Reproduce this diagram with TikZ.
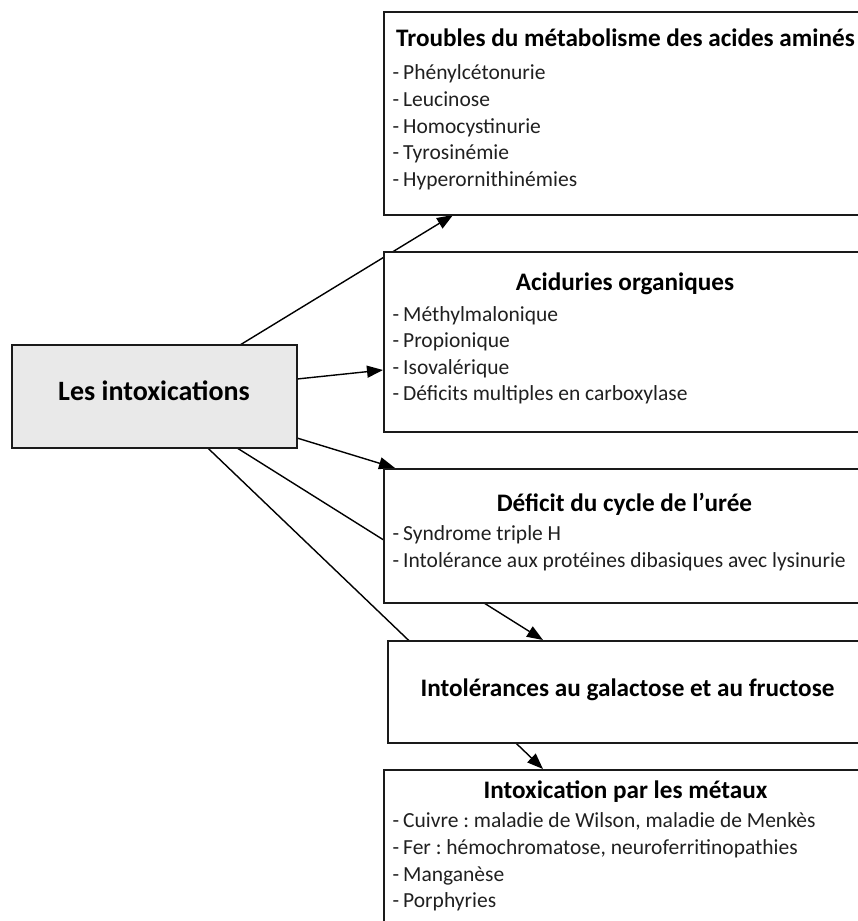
\documentclass[tikz,border=0pt]{standalone}
\usepackage{fontspec}
\setmainfont{Carlito}
\usetikzlibrary{arrows.meta,calc,backgrounds}
\definecolor{mainfill}{HTML}{E9E9E9}
\definecolor{edge}{HTML}{1A1A1A}
\definecolor{bodytext}{HTML}{202020}
\newcommand{\dashB}{\llap{-\hspace{4pt}}}
\tikzset{
  box/.style={draw=edge, line width=1.4pt, fill=white, anchor=north west, inner sep=0pt, outer sep=0pt},
  mainbox/.style={box, fill=mainfill},
  title/.style={font=\fontsize{25.2}{30}\selectfont\bfseries, anchor=base, inner sep=0pt},
  body/.style={font=\fontsize{21.5}{26}\selectfont, text=bodytext, anchor=base west, inner sep=0pt},
  conn/.style={draw=black, line width=1.4pt, -{Triangle[length=16pt,width=12pt]}}
}
\begin{document}
\frenchspacing
\begin{tikzpicture}[x=1pt,y=-1pt]
\useasboundingbox (0,0) rectangle (858,921);
% boxes
\node[mainbox, minimum width=285pt, minimum height=103pt] (main) at (12,345) {};
\node[box, minimum width=500pt, minimum height=203pt] (b1) at (384,12) {};
\node[box, minimum width=500pt, minimum height=180pt] (b2) at (384,252) {};
\node[box, minimum width=500pt, minimum height=134pt] (b3) at (384,469) {};
\node[box, minimum width=500pt, minimum height=102pt] (b4) at (388,641) {};
\node[box, minimum width=500pt, minimum height=200pt] (b5) at (384,770) {};
% connectors (behind boxes)
\begin{scope}[on background layer]
\draw[conn] ($(main.north west)!0.8!(main.north east)$) -- ([xshift=69pt]b1.south west);
\draw[conn] ([yshift=-34pt]main.north east) -- ([yshift=-118pt,xshift=-1pt]b2.north west);
\draw[conn] ([yshift=-93pt]main.north east) -- ([xshift=11pt,yshift=1pt]b3.north west);
\draw[conn] ($(main.south west)!0.79!(main.south east)$) -- ([xshift=155pt,yshift=1pt]b4.north west);
\draw[conn] ($(main.south west)!0.687!(main.south east)$) -- ([xshift=159pt,yshift=1pt]b5.north west);
\end{scope}
% main text
\node[font=\fontsize{28}{34}\selectfont\bfseries, anchor=base, inner sep=0pt] (mainlbl) at (154,400) {Les intoxications};
% box 1
\node[title] (t1) at (625.5,46.7) {Troubles du métabolisme des acides aminés};
\node[body] (b1a) at (403,79) {\dashB Phénylcétonurie};
\node[body] (b1b) at (403,106) {\dashB Leucinose};
\node[body] (b1c) at (403,133) {\dashB Homocystinurie};
\node[body] (b1d) at (403,159) {\dashB Tyrosinémie};
\node[body] (b1e) at (403,186) {\dashB Hyperornithinémies};
% box 2
\node[title] (t2) at (625,290.7) {Aciduries organiques};
\node[body] (b2a) at (403,321) {\dashB Méthylmalonique};
\node[body] (b2b) at (403,347.5) {\dashB Propionique};
\node[body] (b2c) at (403,374) {\dashB Isovalérique};
\node[body] (b2d) at (403,400.7) {\dashB Déficits multiples en carboxylase};
% box 3
\node[title] (t3) at (624.5,511.7) {Déficit du cycle de l’urée};
\node[body] (b3a) at (403,540) {\dashB Syndrome triple H};
\node[body] (b3b) at (403,567) {\dashB Intolérance aux protéines dibasiques avec lysinurie};
% box 4
\node[title] (t4) at (627.5,696) {Intolérances au galactose et au fructose};
% box 5
\node[title] (t5) at (625.5,798) {Intoxication par les métaux};
\node[body] (b5a) at (403,827) {\dashB Cuivre : maladie de Wilson, maladie de Menkès};
\node[body] (b5b) at (403,854.5) {\dashB Fer : hémochromatose, neuroferritinopathies};
\node[body] (b5c) at (403,881.5) {\dashB Manganèse};
\node[body] (b5d) at (403,907.5) {\dashB Porphyries};
\end{tikzpicture}
\end{document}
